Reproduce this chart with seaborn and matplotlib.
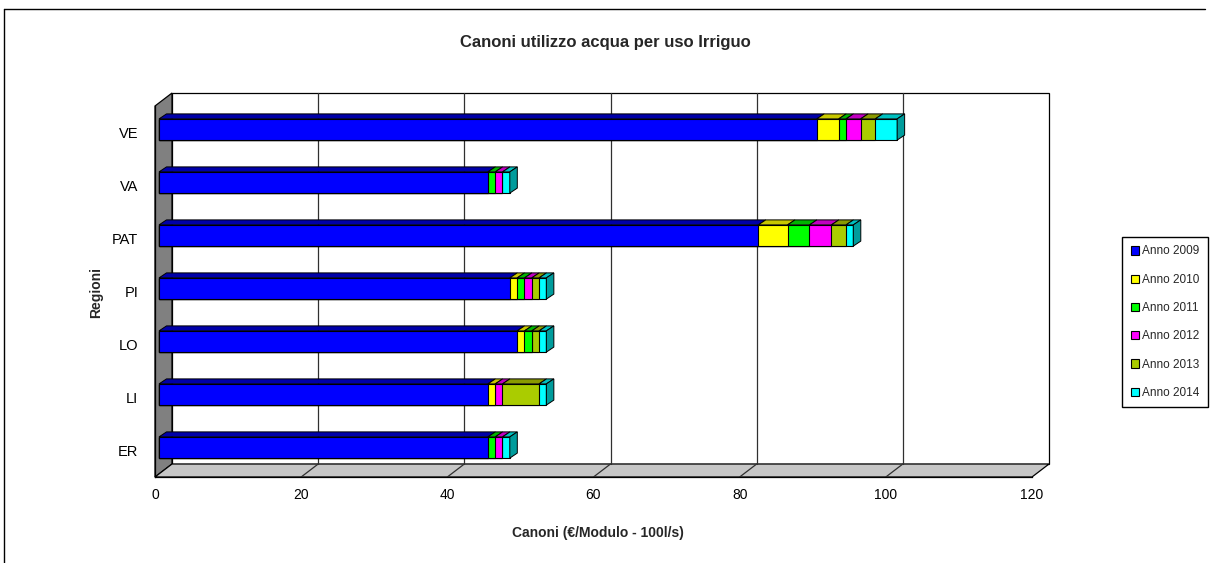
import numpy as np
import matplotlib
matplotlib.use("Agg")
import matplotlib.pyplot as plt
import seaborn as sns
from matplotlib.patches import Polygon, Patch
from matplotlib.lines import Line2D
from matplotlib.transforms import offset_copy, IdentityTransform
from matplotlib.ticker import FixedLocator

# ---- data -------------------------------------------------------------
regions = ["VE", "VA", "PAT", "PI", "LO", "LI", "ER"]
series_names = ["Anno 2009", "Anno 2010", "Anno 2011", "Anno 2012", "Anno 2013", "Anno 2014"]
anno_2009 = [90, 45, 82, 48, 49, 45, 45]
anno_2010 = [3, 0, 4, 1, 1, 1, 0]
anno_2011 = [1, 1, 3, 1, 1, 0, 1]
anno_2012 = [2, 1, 3, 1, 0, 1, 1]
anno_2013 = [2, 0, 2, 1, 1, 5, 0]
anno_2014 = [3, 1, 1, 1, 1, 1, 1]
x_ticks = [0, 20, 40, 60, 80, 100, 120]

# ---- styling ----------------------------------------------------------
front_colors = ["#0000FF", "#FFFF00", "#00FF00", "#FF00FF", "#AACC00", "#00FFFF"]
top_colors = ["#0000A8", "#C8C800", "#00B400", "#C000C0", "#8A9A00", "#00C0C0"]
side_colors = ["#000090", "#A8A800", "#009600", "#A000A0", "#707D00", "#009C9C"]

sns.set_style("white")
FONT = ["Liberation Sans Narrow", "Liberation Sans", "DejaVu Sans"]
plt.rcParams["font.family"] = FONT

W_PX, H_PX = 1211, 563
fig = plt.figure(figsize=(W_PX / 100, H_PX / 100), dpi=100)
fig.patch.set_facecolor("white")

# front plane of the 3D box
ax_l, ax_r, ax_t, ax_b = 155, 1032, 106, 477
ax = fig.add_axes([ax_l / W_PX, 1 - ax_b / H_PX, (ax_r - ax_l) / W_PX, (ax_b - ax_t) / H_PX])
ax.set_facecolor("none")

values = np.array([anno_2009, anno_2010, anno_2011, anno_2012, anno_2013, anno_2014], dtype=float)
cum = np.cumsum(values, axis=0)

# stacked bars: draw cumulative totals from the outermost series inwards
for i in reversed(range(len(series_names))):
    sns.barplot(x=cum[i], y=regions, orient="h", color=front_colors[i], saturation=1,
                width=0.4, edgecolor="black", linewidth=0.8, ax=ax, zorder=3)
bar_patches = list(ax.patches)

ax.set_xlim(0, 120)
ax.set_ylim(len(regions) - 0.5, -0.5)
ax.set_xlabel("")
ax.set_ylabel("")

# bars sit a little inside the box depth
BAR_OFF = (4, 3)
bar_tr = offset_copy(ax.transData, fig=fig, x=BAR_OFF[0], y=BAR_OFF[1], units="dots")
for p in bar_patches:
    p.set_transform(bar_tr)

fig.canvas.draw()
T = ax.transData
ident = IdentityTransform()


def px(x, y, ox=0.0, oy=0.0):
    d = T.transform((x, y))
    return (d[0] + ox, d[1] + oy)


# ---- box walls --------------------------------------------------------
WD = (17, 13)  # depth of the box in pixels
y_bot, y_top = len(regions) - 0.5, -0.5
FLB, FRB, FLT = px(0, y_bot), px(120, y_bot), px(0, y_top)
FRT = px(120, y_top)
off = lambda p: (p[0] + WD[0], p[1] + WD[1])

back = Polygon([off(FLB), off(FRB), off(FRT), off(FLT)], closed=True, facecolor="white",
               edgecolor="black", linewidth=0.9, transform=ident, clip_on=False, zorder=0.5)
left_wall = Polygon([FLB, FLT, off(FLT), off(FLB)], closed=True, facecolor="#808080",
                    edgecolor="black", linewidth=0.9, transform=ident, clip_on=False, zorder=0.6)
floor = Polygon([FLB, FRB, off(FRB), off(FLB)], closed=True, facecolor="#C6C6C6",
                edgecolor="black", linewidth=0.9, transform=ident, clip_on=False, zorder=0.6)
for patch in (back, left_wall, floor):
    ax.add_patch(patch)

for v in x_ticks[1:-1]:
    a, b = px(v, y_bot), px(v, y_top)
    ax.add_line(Line2D([off(a)[0], off(b)[0]], [off(a)[1], off(b)[1]], color="#303030",
                       linewidth=0.9, transform=ident, clip_on=False, zorder=0.7))
    ax.add_line(Line2D([a[0], off(a)[0]], [a[1], off(a)[1]], color="#303030",
                       linewidth=0.9, transform=ident, clip_on=False, zorder=0.7))

# ---- 3D faces of the bars --------------------------------------------
BD = (7.5, 5)
half_h = 0.2
for j in range(len(regions)):
    left = 0.0
    last = None
    for i in range(len(series_names)):
        v = values[i, j]
        if v <= 0:
            continue
        a = px(left, j - half_h, *BAR_OFF)
        b = px(left + v, j - half_h, *BAR_OFF)
        top = Polygon([a, b, (b[0] + BD[0], b[1] + BD[1]), (a[0] + BD[0], a[1] + BD[1])],
                      closed=True, facecolor=top_colors[i], edgecolor="black", linewidth=0.7,
                      transform=ident, clip_on=False, zorder=3.5)
        ax.add_patch(top)
        left += v
        last = i
    rt = px(left, j - half_h, *BAR_OFF)
    rb = px(left, j + half_h, *BAR_OFF)
    side = Polygon([rt, rb, (rb[0] + BD[0], rb[1] + BD[1]), (rt[0] + BD[0], rt[1] + BD[1])],
                   closed=True, facecolor=side_colors[last], edgecolor="black", linewidth=0.7,
                   transform=ident, clip_on=False, zorder=3.5)
    ax.add_patch(side)

# ---- axes, ticks and labels --------------------------------------------
for s in ("top", "right"):
    ax.spines[s].set_visible(False)
for s in ("left", "bottom"):
    ax.spines[s].set_color("black")
    ax.spines[s].set_linewidth(0.9)
    ax.spines[s].set_zorder(1)

ax.set_xticks(x_ticks)
ax.set_xticklabels([str(t) for t in x_ticks])
ax.tick_params(axis="x", direction="out", length=5, width=0.9, color="black", pad=3,
               labelsize=10, labelcolor="black")
ax.set_yticks(range(len(regions)))
ax.set_yticklabels(regions)
ax.tick_params(axis="y", which="major", length=0, pad=12, labelsize=10.5, labelcolor="black")
ax.yaxis.set_minor_locator(FixedLocator(np.arange(-0.5, len(regions), 1.0)))
ax.tick_params(axis="y", which="minor", direction="out", length=5, width=0.9, color="black")

fig.text(605 / W_PX, 1 - 42 / H_PX, "Canoni utilizzo acqua per uso Irriguo", ha="center",
         va="center", fontsize=12, fontweight="bold", family=FONT)
fig.text(598 / W_PX, 1 - 533 / H_PX, "Canoni (€/Modulo - 100l/s)", ha="center", va="center",
         fontsize=10, fontweight="bold", family=FONT)
fig.text(96 / W_PX, 1 - 292 / H_PX, "Regioni", ha="center", va="center", rotation=90,
         fontsize=10, fontweight="bold", family=FONT)

handles = [Patch(facecolor=c, edgecolor="black", linewidth=0.8) for c in front_colors]
leg = fig.legend(handles, series_names, loc="upper left",
                 bbox_to_anchor=(1122 / W_PX, 1 - 237 / H_PX), frameon=True, fancybox=False,
                 framealpha=1, edgecolor="black", fontsize=8.5, handlelength=0.7,
                 handleheight=0.7, handletextpad=0.3, labelspacing=1.38, borderpad=0.72,
                 borderaxespad=0)
leg.get_frame().set_linewidth(1.0)

# outer chart frame
fig.add_artist(Line2D([4 / W_PX, 1205 / W_PX], [1 - 9 / H_PX, 1 - 9 / H_PX], color="black",
                      linewidth=1, transform=fig.transFigure))
fig.add_artist(Line2D([4 / W_PX, 4 / W_PX], [0, 1 - 9 / H_PX], color="black",
                      linewidth=1, transform=fig.transFigure))

fig.savefig("out.png", dpi=100, facecolor="white")
